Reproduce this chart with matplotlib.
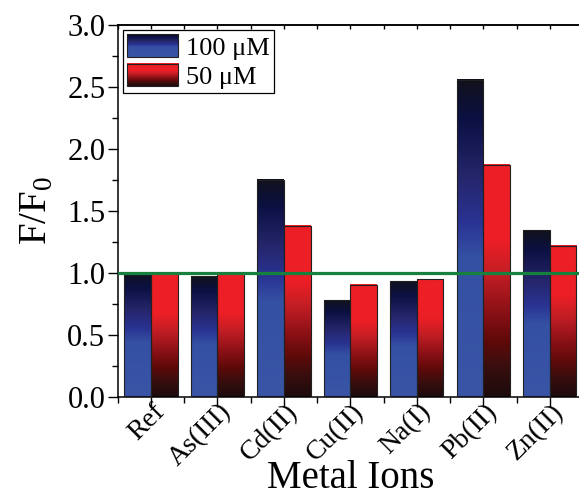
import numpy as np
import matplotlib
matplotlib.use("Agg")
import matplotlib.pyplot as plt
from matplotlib.colors import LinearSegmentedColormap
from matplotlib.legend_handler import HandlerBase
from matplotlib.image import BboxImage
from matplotlib.patches import Patch, Rectangle
from matplotlib.ticker import MultipleLocator
from matplotlib.transforms import Bbox, TransformedBbox, ScaledTranslation

plt.rcParams["font.family"] = "serif"
plt.rcParams["font.serif"] = ["Liberation Serif", "DejaVu Serif"]
plt.rcParams["mathtext.fontset"] = "custom"
plt.rcParams["mathtext.rm"] = "Liberation Serif"

ions = ["Ref", "As(III)", "Cd(II)", "Cu(II)", "Na(I)", "Pb(II)", "Zn(II)"]
conc_100 = [1.00, 0.975, 1.75, 0.78, 0.935, 2.56, 1.345]
conc_50 = [1.00, 1.00, 1.38, 0.905, 0.95, 1.875, 1.22]
series_labels = ["100 \u03bcM", "50 \u03bcM"]
reference_level = 1.0

# gradients run top -> bottom of each bar
BLUE = LinearSegmentedColormap.from_list("blue_bar", [
    (0.0, "#12121c"), (0.12, "#0b1042"), (0.3, "#25256a"),
    (0.45, "#2a3392"), (0.56, "#3450a3"), (1.0, "#3a55a6")])
RED = LinearSegmentedColormap.from_list("red_bar", [
    (0.0, "#ee1f26"), (0.33, "#ec1f26"), (0.47, "#c21e24"), (0.63, "#8c1116"),
    (0.76, "#600909"), (0.87, "#3a0e0e"), (1.0, "#1c0b0d")])
EDGE = "#202020"
GRAD = np.linspace(0, 1, 256).reshape(-1, 1)


class GradientHandler(HandlerBase):
    def __init__(self, cmap):
        super().__init__()
        self.cmap = cmap

    def create_artists(self, legend, orig_handle, xdescent, ydescent, width, height, fontsize, trans):
        box = TransformedBbox(Bbox.from_bounds(-xdescent, -ydescent, width, height), trans)
        img = BboxImage(box, cmap=self.cmap, interpolation="bilinear")
        img.set_data(GRAD)
        rect = Rectangle((-xdescent, -ydescent), width, height, facecolor="none",
                         edgecolor=EDGE, lw=0.8, transform=trans)
        return [img, rect]


fig = plt.figure(figsize=(5.79, 4.97), dpi=100)
ax = fig.add_axes([0.2034, 0.2012, 0.8035, 0.7485])

x = np.arange(len(ions))
width = 0.4
for values, cmap, offset in ((conc_100, BLUE, -width / 2), (conc_50, RED, width / 2)):
    bars = ax.bar(x + offset, values, width, facecolor="none", edgecolor=EDGE, lw=0.8, zorder=3)
    for bar in bars:
        x0, y0 = bar.get_x(), bar.get_y()
        ax.imshow(GRAD, cmap=cmap, aspect="auto", interpolation="bilinear", zorder=2,
                  extent=(x0, x0 + bar.get_width(), y0, y0 + bar.get_height()))

ax.axhline(reference_level, color="#17803f", lw=2.3, zorder=4)

ax.set_xlim(-0.5, 6.5)
ax.set_ylim(0, 3.0)
ax.set_xticks(x)
ax.set_xticklabels([])
# rotated category labels, nudged so their ends sit just right of each tick
shift = ScaledTranslation(10 / 100, -11 / 100, fig.dpi_scale_trans)
for xi, name in zip(x, ions):
    ax.text(xi, 0, name, transform=ax.get_xaxis_transform() + shift, rotation=45,
            ha="right", va="center", rotation_mode="anchor", fontsize=20)
ax.xaxis.set_minor_locator(MultipleLocator(1, offset=0.5))
ax.yaxis.set_major_locator(MultipleLocator(0.5))
ax.yaxis.set_minor_locator(MultipleLocator(0.25))
ax.set_yticklabels([f"{v:.1f}" for v in ax.get_yticks()], fontsize=22)
ax.tick_params(which="major", direction="out", length=7, width=1, pad=2)
ax.tick_params(which="minor", direction="out", length=4, width=1)
ax.spines["right"].set_visible(False)
for s in ("left", "bottom", "top"):
    ax.spines[s].set_linewidth(1.1)

top = ax.secondary_xaxis("top")
top.set_xticks(x)
top.xaxis.set_minor_locator(MultipleLocator(1, offset=0.5))
top.tick_params(which="both", direction="in", length=3, width=1, labeltop=False)
top.spines["top"].set_linewidth(1.1)

ax.set_xlabel("Metal Ions", fontsize=28)
ax.xaxis.set_label_coords(0.5, -0.170)
ax.set_ylabel("F/F$_\\mathregular{0}$", fontsize=28, labelpad=8)

h_blue, h_red = Patch(), Patch()
leg = ax.legend([h_blue, h_red], series_labels, loc="upper left", fontsize=19,
                handler_map={h_blue: GradientHandler(BLUE), h_red: GradientHandler(RED)},
                handlelength=1.95, handleheight=0.95, handletextpad=0.3, labelspacing=0.15,
                borderpad=0.15, borderaxespad=0.2, fancybox=False, framealpha=1)
leg.get_frame().set_edgecolor("black")
leg.get_frame().set_linewidth(0.9)
leg.set_zorder(6)

fig.savefig("out.png", dpi=100)
